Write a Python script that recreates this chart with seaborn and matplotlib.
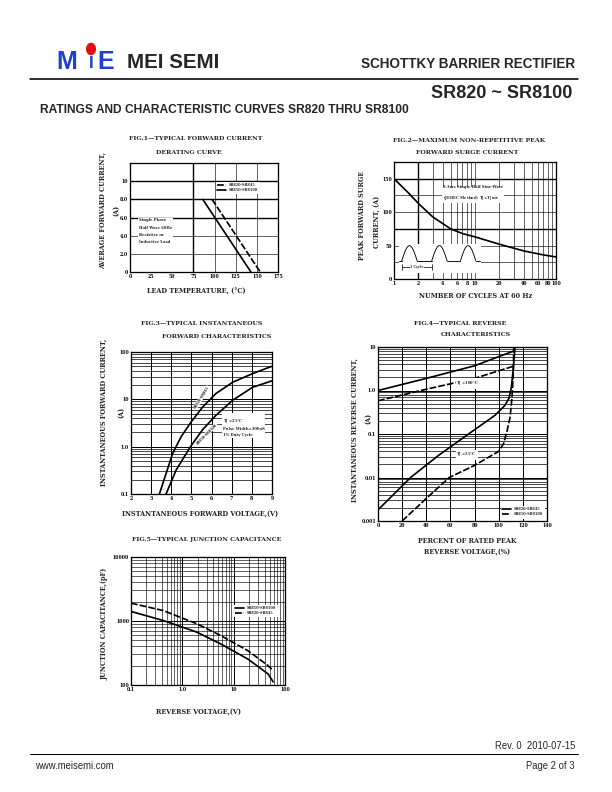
import numpy as np
import matplotlib
matplotlib.use("Agg")
import matplotlib.pyplot as plt
import matplotlib.ticker as mticker
import seaborn as sns

# Fig.1 forward current derating
f1_temp_sr820 = [97, 154]
f1_amp_sr820 = [8.0, 0.0]
f1_temp_sr850 = [86, 143]
f1_amp_sr850 = [8.0, 0.0]
f1_xticks = [0, 25, 50, 75, 100, 125, 150, 175]
f1_yticks = [0, 2, 4, 6, 8, 10]
f1_ylabels = ["0", "2.0", "4.0", "6.0", "8.0", "10"]

# Fig.2 peak forward surge current
f2_cycles = [1, 1.5, 2, 3, 5, 7, 10, 20, 40, 70, 100]
f2_surge = [150, 129, 113, 93, 75, 68, 63, 52, 42, 36, 33]
f2_xticks = [1, 2, 4, 6, 8, 10, 20, 40, 60, 80, 100]
f2_xminor = [3, 5, 7, 9, 30, 50, 70, 90]
f2_yticks = [0, 50, 100, 150]

# Fig.3 instantaneous forward characteristics
f3_volt_sr820 = [3.41, 3.74, 4.07, 4.48, 4.98, 5.56, 6.22, 7.05, 8.04, 9.0]
f3_amp_sr820 = [0.1, 0.27, 0.72, 1.6, 3.3, 6.9, 13.3, 23, 35, 50]
f3_volt_sr850 = [3.74, 4.24, 4.95, 5.56, 6.22, 7.05, 8.04, 9.0]
f3_amp_sr850 = [0.1, 0.32, 1.0, 2.3, 4.6, 9.6, 18, 24.6]
f3_xticks = [2, 3, 4, 5, 6, 7, 8, 9]
f3_yticks = [0.1, 1, 10, 100]
f3_ylabels = ["0.1", "1.0", "10", "100"]

# Fig.4 reverse characteristics
f4_pct_hot_sr820 = [0, 40, 80, 112]
f4_ir_hot_sr820 = [1.0, 1.9, 3.7, 8.0]
f4_pct_hot_sr850 = [0, 40, 80, 112]
f4_ir_hot_sr850 = [0.58, 1.07, 1.9, 3.6]
f4_pct_25_sr820 = [0, 27, 50, 75, 97, 105, 108.5, 110.5, 112, 113, 113.5]
f4_ir_25_sr820 = [0.0018, 0.01, 0.032, 0.1, 0.27, 0.45, 0.66, 1.2, 3.0, 6.5, 10]
f4_pct_25_sr850 = [20, 40, 59, 80, 100, 104, 107, 109.5, 111, 112, 112.5]
f4_ir_25_sr850 = [0.001, 0.0033, 0.01, 0.019, 0.04, 0.06, 0.12, 0.25, 0.7, 2.2, 10]
f4_xticks = [0, 20, 40, 60, 80, 100, 120, 140]
f4_yticks = [0.001, 0.01, 0.1, 1, 10]
f4_ylabels = ["0.001", "0.01", "0.1", "1.0", "10"]

# Fig.5 junction capacitance
f5_volt = [0.1, 0.42, 1.93, 5.6, 18.8, 46.8, 58.8]
f5_cap_sr820 = [1900, 1460, 903, 593, 345, 201, 168]
f5_cap_sr850 = [1410, 1020, 668, 438, 255, 149, 112]
f5_xticks = [0.1, 1, 10, 100]
f5_xlabels = ["0.1", "1.0", "10", "100"]
f5_yticks = [100, 1000, 10000]

sns.set_style("white")
plt.rcParams['font.family'] = ['DejaVu Serif', 'DejaVu Sans']
plt.rcParams['font.weight'] = 'bold'
plt.rcParams['mathtext.default'] = 'regular'

W, H = 612, 792
fig = plt.figure(figsize=(8.5, 11), dpi=72)

TS = 6.3   # figure titles
LS = 6.5   # axis titles
IS = 3.7   # in-plot notes


def box(l, t, r, b):
    return fig.add_axes([l / W, 1 - b / H, (r - l) / W, (b - t) / H])


def ftext(x, y, s, **kw):
    kw.setdefault('ha', 'center')
    kw.setdefault('va', 'center')
    fig.text(x / W, 1 - y / H, s, **kw)


def frame(ax):
    for sp in ax.spines.values():
        sp.set_color('black')
        sp.set_linewidth(1.3)
    ax.tick_params(which='both', length=0, pad=2, labelsize=4.6, colors='black')
    ax.set_axisbelow(True)
    ax.set_xlabel('')
    ax.set_ylabel('')


def curve(ax, x, y, dashed=False, label=None):
    sns.lineplot(x=x, y=y, ax=ax, color='black', lw=1.7, sort=False,
                 estimator=None, linestyle=(0, (4, 1.2)) if dashed else '-',
                 label=label)


def legend(ax, **kw):
    ax.legend(fontsize=3.5, frameon=True, handlelength=2.4, borderpad=0.3,
              labelspacing=0.3, fancybox=False, edgecolor='white', framealpha=1,
              **kw)


WB = dict(facecolor='white', edgecolor='none', pad=0.8)

# ---------------- Fig.1 ----------------
ax1 = box(130, 163, 278, 272)
curve(ax1, f1_temp_sr820, f1_amp_sr820, dashed=True, label='SR820-SR845')
curve(ax1, f1_temp_sr850, f1_amp_sr850, label='SR850-SR8100')
ax1.set_xlim(0, 175)
ax1.set_ylim(0, 12)
ax1.set_xticks(f1_xticks)
ax1.set_xticklabels([str(v) for v in f1_xticks])
ax1.set_yticks(f1_yticks)
ax1.set_yticklabels(f1_ylabels)
for v in [75, 100, 125, 150]:
    ax1.axvline(v, color='black', lw=1.4 if v == 75 else 0.6, zorder=0)
for v in [2, 4, 6, 8, 10]:
    ax1.axhline(v, color='black', lw=1.4 if v >= 6 else 0.6, zorder=0)
frame(ax1)
legend(ax1, loc='upper left', bbox_to_anchor=(0.57, 0.84))
ax1.text(11, 5.9, 'Single Phase\nHalf Wave 60Hz\nResistive or\nInductive Load',
         fontsize=IS, va='top', ha='left', linespacing=2.1, bbox=WB)
ftext(196, 139, 'FIG.1\u2014TYPICAL FORWARD CURRENT', fontsize=TS)
ftext(189, 152, 'DERATING CURVE', fontsize=TS)
ftext(103, 211, 'AVERAGE FORWARD CURRENT,', rotation=90, fontsize=LS)
ftext(116, 210, '(A)', rotation=90, fontsize=LS)
ftext(196, 292, 'LEAD TEMPERATURE, (\u00b0C)', fontsize=LS)

# ---------------- Fig.2 ----------------
ax2 = box(394, 162, 556, 279)
ax2.set_xscale('log')
curve(ax2, f2_cycles, f2_surge)
ax2.set_xlim(1, 100)
ax2.set_ylim(0, 175)
ax2.xaxis.set_major_locator(mticker.FixedLocator(f2_xticks))
ax2.xaxis.set_major_formatter(mticker.FixedFormatter([str(v) for v in f2_xticks]))
ax2.xaxis.set_minor_locator(mticker.FixedLocator(f2_xminor))
ax2.xaxis.set_minor_formatter(mticker.NullFormatter())
ax2.set_yticks(f2_yticks)
ax2.set_yticklabels([str(v) for v in f2_yticks])
ax2.grid(True, which='both', axis='x', color='black', lw=0.6)
for v in [25, 50, 75, 100, 125, 150]:
    ax2.axhline(v, color='black', lw=1.4 if v in (75, 150) else 0.6, zorder=0)
ax2.axvline(2, color='black', lw=1.4, zorder=0)
frame(ax2)
ax2.text(0.3, 0.8, '8.3ms Single Half Sine-Wave\n(JEDEC Method) T$_J$=T$_{J\\ max}$',
         transform=ax2.transAxes, fontsize=IS, va='top', ha='left',
         linespacing=1.8, bbox=WB)
# schematic half-wave icon (drawn in axes fraction)
tr = ax2.transAxes
base, amp = 0.155, 0.13
ax2.fill_between([0.03, 0.53], 0.06, 0.30, transform=tr, color='white', zorder=2)
starts = [0.048, 0.233, 0.41]
hw = 0.095
t = np.linspace(0, 1, 40)
for s in starts:
    ax2.plot(s + hw * t, base + amp * np.sin(np.pi * t), color='black', lw=0.9,
             transform=tr, zorder=3)
for a, b in [(0.03, starts[0]), (starts[0] + hw, starts[1]),
             (starts[1] + hw, starts[2]), (starts[2] + hw, 0.53)]:
    ax2.plot([a, b], [base, base], color='black', lw=0.9, transform=tr, zorder=3)
ax2.plot([starts[0], starts[1]], [0.105, 0.105], color='black', lw=0.7,
         transform=tr, zorder=3)
for s in starts[:2]:
    ax2.plot([s, s], [0.08, 0.13], color='black', lw=0.7, transform=tr, zorder=3)
ax2.text((starts[0] + starts[1]) / 2, 0.105, '1 Cycle', transform=tr, fontsize=3.4,
         ha='center', va='center',
         bbox=dict(facecolor='white', edgecolor='none', pad=0.3), zorder=4)
ftext(469, 140, 'FIG.2\u2014MAXIMUM NON-REPETITIVE PEAK', fontsize=TS)
ftext(467, 153, 'FORWARD SURGE CURRENT', fontsize=TS)
ftext(362, 215, 'PEAK FORWARD SURGE', rotation=90, fontsize=LS)
ftext(378, 222, 'CURRENT, (A)', rotation=90, fontsize=LS)
ftext(476, 296, 'NUMBER OF CYCLES AT 60 Hz', fontsize=LS)

# ---------------- Fig.3 ----------------
ax3 = box(131, 352, 272, 494)
ax3.set_yscale('log')
curve(ax3, f3_volt_sr820, f3_amp_sr820)
curve(ax3, f3_volt_sr850, f3_amp_sr850)
ax3.set_xlim(2, 9)
ax3.set_ylim(0.1, 100)
ax3.set_xticks(f3_xticks)
ax3.set_xticklabels([str(v) for v in f3_xticks])
ax3.yaxis.set_major_locator(mticker.FixedLocator(f3_yticks))
ax3.yaxis.set_major_formatter(mticker.FixedFormatter(f3_ylabels))
ax3.yaxis.set_minor_locator(mticker.LogLocator(base=10, subs=np.arange(2, 10)))
ax3.yaxis.set_minor_formatter(mticker.NullFormatter())
ax3.grid(True, which='major', color='black', lw=1.0)
ax3.grid(True, which='minor', axis='y', color='black', lw=0.7)
frame(ax3)
ax3.text(5.5, 11, 'SR820-SR845', rotation=58, fontsize=3.4, ha='center',
         va='center', bbox=dict(facecolor='white', edgecolor='none', pad=0.2))
ax3.text(5.75, 1.85, 'SR850-SR8100', rotation=45, fontsize=3.4, ha='center',
         va='center', bbox=dict(facecolor='white', edgecolor='none', pad=0.2))
ax3.text(6.55, 4.3, 'T$_J$ =25\u00b0C\nPulse Width=300uS\n1% Duty Cycle',
         fontsize=IS, ha='left', va='top', linespacing=1.6, bbox=WB)
ftext(202, 323, 'FIG.3\u2014TYPICAL INSTANTANEOUS', fontsize=TS)
ftext(217, 337, 'FORWARD CHARACTERISTICS', fontsize=TS)
ftext(104, 412, 'INSTANTANEOUS FORWARD CURRENT,', rotation=90, fontsize=LS)
ftext(121, 412, '(A)', rotation=90, fontsize=LS)
ftext(200, 515, 'INSTANTANEOUS FORWARD VOLTAGE,(V)', fontsize=LS)

# ---------------- Fig.4 ----------------
ax4 = box(378, 347, 547, 521)
ax4.set_yscale('log')
curve(ax4, f4_pct_hot_sr820, f4_ir_hot_sr820, label='SR820-SR845')
curve(ax4, f4_pct_hot_sr850, f4_ir_hot_sr850, dashed=True, label='SR850-SR8100')
curve(ax4, f4_pct_25_sr820, f4_ir_25_sr820)
curve(ax4, f4_pct_25_sr850, f4_ir_25_sr850, dashed=True)
ax4.set_xlim(0, 140)
ax4.set_ylim(0.001, 10)
ax4.set_xticks(f4_xticks)
ax4.set_xticklabels([str(v) for v in f4_xticks])
ax4.yaxis.set_major_locator(mticker.FixedLocator(f4_yticks))
ax4.yaxis.set_major_formatter(mticker.FixedFormatter(f4_ylabels))
ax4.yaxis.set_minor_locator(mticker.LogLocator(base=10, subs=np.arange(2, 10)))
ax4.yaxis.set_minor_formatter(mticker.NullFormatter())
ax4.grid(True, which='major', color='black', lw=1.0)
ax4.grid(True, which='minor', axis='y', color='black', lw=0.7)
frame(ax4)
legend(ax4, loc='lower right', bbox_to_anchor=(0.99, 0.01))
ax4.text(65, 1.45, 'T$_J$ =100\u00b0C', fontsize=IS, ha='left', va='center', bbox=WB)
ax4.text(65, 0.033, 'T$_J$ =25\u00b0C', fontsize=IS, ha='left', va='center', bbox=WB)
ftext(460, 323, 'FIG.4\u2014TYPICAL REVERSE', fontsize=TS)
ftext(476, 335, 'CHARACTERISTICS', fontsize=TS)
ftext(355, 430, 'INSTANTANEOUS REVERSE CURRENT,', rotation=90, fontsize=LS)
ftext(368, 418, '(A)', rotation=90, fontsize=LS)
ftext(467, 541, 'PERCENT OF RATED PEAK', fontsize=LS)
ftext(467, 553, 'REVERSE VOLTAGE,(%)', fontsize=LS)

# ---------------- Fig.5 ----------------
ax5 = box(131, 557, 285, 685)
ax5.set_xscale('log')
ax5.set_yscale('log')
curve(ax5, f5_volt, f5_cap_sr850, label='SR850-SR8100')
curve(ax5, f5_volt, f5_cap_sr820, dashed=True, label='SR820-SR845')
ax5.set_xlim(0.1, 100)
ax5.set_ylim(100, 10000)
ax5.xaxis.set_major_locator(mticker.FixedLocator(f5_xticks))
ax5.xaxis.set_major_formatter(mticker.FixedFormatter(f5_xlabels))
ax5.yaxis.set_major_locator(mticker.FixedLocator(f5_yticks))
ax5.yaxis.set_major_formatter(mticker.FixedFormatter([str(v) for v in f5_yticks]))
for a in (ax5.xaxis, ax5.yaxis):
    a.set_minor_locator(mticker.LogLocator(base=10, subs=np.arange(2, 10)))
    a.set_minor_formatter(mticker.NullFormatter())
ax5.grid(True, which='major', color='black', lw=1.0)
ax5.grid(True, which='minor', color='black', lw=0.6)
frame(ax5)
legend(ax5, loc='upper left', bbox_to_anchor=(0.66, 0.64))
ftext(207, 540, 'FIG.5\u2014TYPICAL JUNCTION CAPACITANCE', fontsize=TS)
ftext(104, 624, 'JUNCTION CAPACITANCE,(pF)', rotation=90, fontsize=LS)
ftext(198, 713, 'REVERSE VOLTAGE,(V)', fontsize=LS)

# ---------------- page header / footer ----------------
sans = ['Liberation Sans', 'DejaVu Sans']
blue = '#1f3fd0'
ftext(56, 62, 'M', fontsize=25, family=sans, weight='heavy', color=blue, ha='left')
ftext(97, 62, 'E', fontsize=25, family=sans, weight='heavy', color=blue, ha='left')
ftext(91, 63, 'I', fontsize=17, family=sans, weight='bold', color=blue)
fig.patches.append(matplotlib.patches.Circle((91 / W, 1 - 49 / H), 4.5 / W,
                   transform=fig.transFigure, color='#e01010', figure=fig))
ftext(127, 63, 'MEI SEMI', fontsize=20.5, family=sans, weight='bold', ha='left')
ftext(575, 64, 'SCHOTTKY BARRIER RECTIFIER', fontsize=13.5, family=sans,
      weight='bold', ha='right')
fig.add_artist(plt.Line2D([30 / W, 578 / W], [1 - 79 / H, 1 - 79 / H],
                          transform=fig.transFigure, color='black', lw=1.6))
ftext(572, 94, 'SR820 ~ SR8100', fontsize=18, family=sans, weight='bold',
      ha='right')
ftext(40, 110, 'RATINGS AND CHARACTERISTIC CURVES SR820 THRU SR8100',
      fontsize=12, family=sans, weight='bold', ha='left')
ftext(575, 746, 'Rev. 0  2010-07-15', fontsize=9.5, family=sans,
      weight='normal', ha='right')
fig.add_artist(plt.Line2D([30 / W, 578 / W], [1 - 754 / H, 1 - 754 / H],
                          transform=fig.transFigure, color='black', lw=1.0))
ftext(35, 766, 'www.meisemi.com', fontsize=9.5, family=sans, weight='normal',
      ha='left')
ftext(575, 766, 'Page 2 of 3', fontsize=9.5, family=sans, weight='normal',
      ha='right')

fig.savefig('out.png', dpi=72)
